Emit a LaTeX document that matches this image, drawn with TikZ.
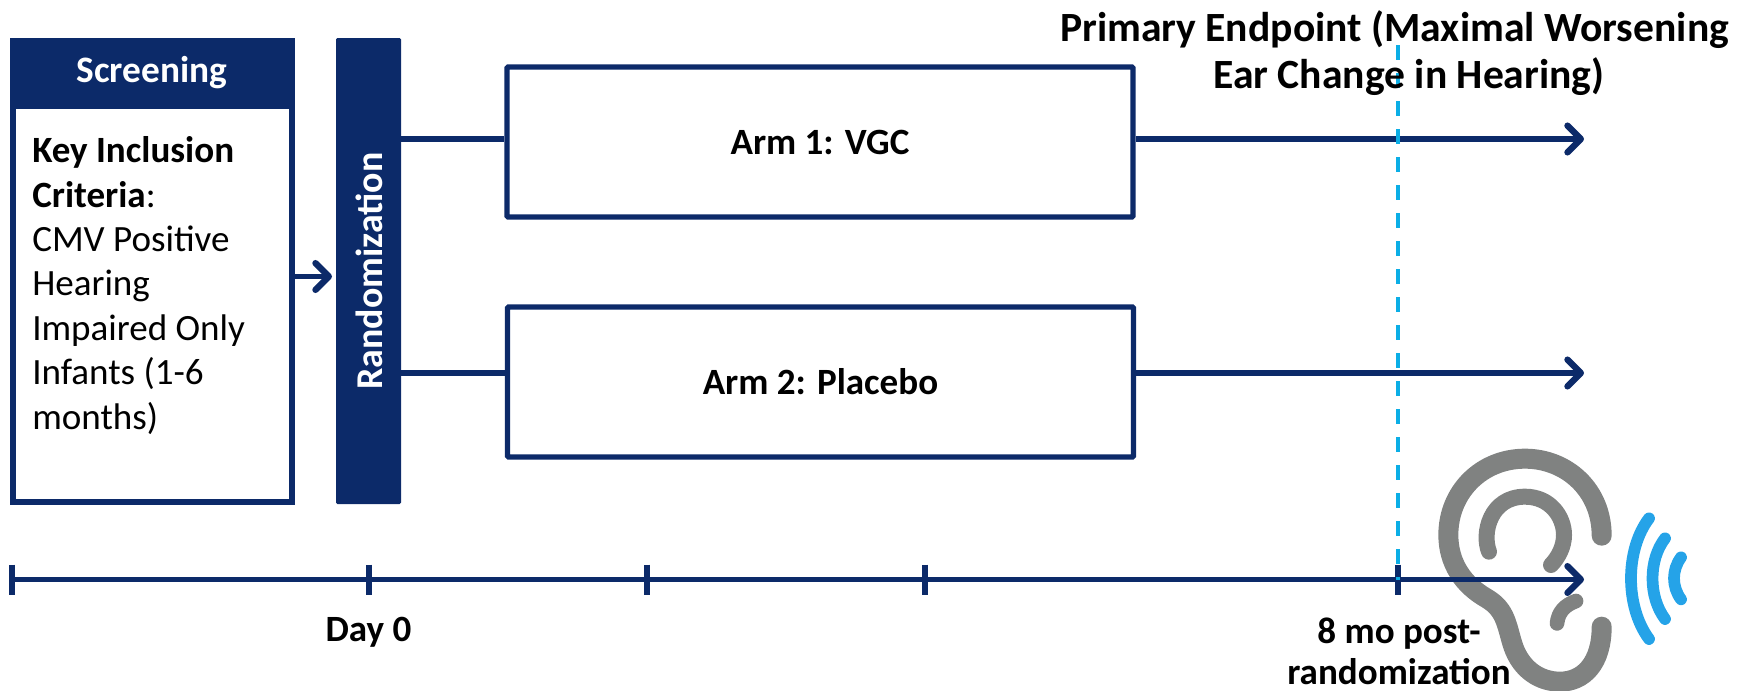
\documentclass[tikz,border=0pt]{standalone}
\usepackage{fontspec}
\setmainfont{Carlito}
\usetikzlibrary{arrows.meta,calc}
\definecolor{navy}{HTML}{0C2A69}
\definecolor{earg}{HTML}{808281}
\definecolor{dashb}{HTML}{0BAEE6}
\definecolor{waveb}{HTML}{25A3E8}
\tikzset{
  x=0.75pt,y=-0.75pt,
  conn/.style={draw=navy,line width=4.4pt},
  arrowc/.style={conn,-{Straight Barb[length=10pt,width=20pt,line width=4.8pt,round]}},
  armbox/.style={draw=navy,line width=3.9pt,fill=white,minimum width=626*0.75pt,minimum height=150*0.75pt,inner sep=0pt,font=\fontsize{27.8}{33}\selectfont\bfseries,rounded corners=0.8pt},
  tick/.style={draw=navy,line width=4.5pt},
  lab/.style={font=\fontsize{27.8}{31}\selectfont\bfseries,align=center,inner sep=0pt},
  earl/.style={draw=earg,line cap=round,line join=round},
  wavel/.style={draw=waveb,line width=8.8pt,line cap=round},
}
\begin{document}
\begin{tikzpicture}
\useasboundingbox (0,0) rectangle (1751,690);
\clip (0,0) rectangle (1751,690);
% Ear (zoom coordinates of the detail, thirds of a pixel)
\begin{scope}[shift={(1350,420)},x=0.25pt,y=-0.25pt]
  \draw[earl,line width=15pt] (755,347) .. controls (755,210) and (650,116) .. (525,116)
     .. controls (395,116) and (295,215) .. (295,345)
     .. controls (295,430) and (340,495) .. (410,535)
     .. controls (470,570) and (470,620) .. (490,680)
     .. controls (515,750) and (570,785) .. (630,785)
     .. controls (700,785) and (755,730) .. (755,620);
  \draw[earl,line width=12pt] (417,395) .. controls (395,340) and (420,230) .. (525,230)
     .. controls (600,230) and (642,290) .. (642,345)
     .. controls (642,380) and (625,412) .. (603,435);
  \draw[earl,line width=11pt] (621,610) .. controls (625,575) and (645,555) .. (678,543);
  \draw[wavel] (897,295) .. controls (825,390) and (825,560) .. (897,657);
  \draw[wavel] (945,355) .. controls (895,420) and (895,530) .. (945,597);
  \draw[wavel] (993,412) .. controls (965,450) and (965,500) .. (993,538);
\end{scope}
% Screening
\node[draw=navy,line width=4.5pt,fill=white,minimum width=279*0.75pt,minimum height=461*0.75pt,inner sep=0pt] (screen) at (152,271) {};
\node[fill=navy,minimum width=285*0.75pt,minimum height=71*0.75pt,inner sep=0pt,text=white,font=\fontsize{28}{33}\selectfont\bfseries] (head) at (152,73) {\raisebox{-3.5pt}{Screening}};
\node[anchor=north west,inner sep=0pt,align=left,font=\fontsize{27.8}{33.3}\selectfont] (crit) at (32,136.5) {\textbf{Key Inclusion}\\\textbf{Criteria}:\\CMV Positive\\Hearing\\Impaired Only\\Infants (1-6\\months)};
% Randomization
\node[fill=navy,rounded corners=1pt,minimum width=65*0.75pt,minimum height=466*0.75pt,inner sep=0pt] (rand) at (368.5,271) {};
\node[rotate=90,text=white,inner sep=0pt,font=\fontsize{28.4}{33}\selectfont\bfseries] (randt) at (369,271) {Randomization};
% Arms
\node[armbox] (arm1) at (820,142) {\raisebox{-4pt}{Arm 1: VGC}};
\node[armbox] (arm2) at (820.5,382) {\raisebox{-1pt}{Arm 2: Placebo}};
\coordinate (r1) at (rand.east |- 0,139);
\coordinate (r2) at (rand.east |- 0,373);
\coordinate (e1) at (1584,139);
\coordinate (e2) at (1584,373);
\draw[conn] (r1) -- (r1 -| arm1.west);
\draw[conn] (r2) -- (r2 -| arm2.west);
\draw[arrowc] (r1 -| arm1.east) -- (e1);
\draw[arrowc] (r2 -| arm2.east) -- (e2);
\coordinate (s1) at (screen.east |- 0,276.5);
\coordinate (s2) at (332,276.5);
\draw[arrowc,shorten <=-1pt] (s1) -- (s2);
% Timeline
\coordinate (t0) at (11.5,579.5);
\coordinate (t1) at (368.5,579.5);
\coordinate (t2) at (646.5,579.5);
\coordinate (t3) at (924.5,579.5);
\coordinate (t4) at (1398,579.5);
\coordinate (tend) at (1584,579.5);
\draw[arrowc] (t0) -- (tend);
\foreach \t in {t0,t1,t2,t3,t4}{\draw[tick] ($(\t)+(0,-15)$) -- ($(\t)+(0,15)$);}
\coordinate (dtop) at (1398,45);
\draw[dashb,line width=3.4pt,dash pattern=on 11.5pt off 9.5pt] (dtop) -- (t4);
% Labels
\node[lab] (day0) at (368.5,632) {Day 0};
\node[lab] (eight) at (1399,651) {8 mo post-\\randomization};
\node[font=\fontsize{31.2}{35.2}\selectfont\bfseries,align=center,inner sep=0pt] (pe) at (1409,53.5) {Primary Endpoint (Maximal Worsening\hspace*{21.7pt}\\Ear Change in Hearing)};
\end{tikzpicture}
\end{document}
